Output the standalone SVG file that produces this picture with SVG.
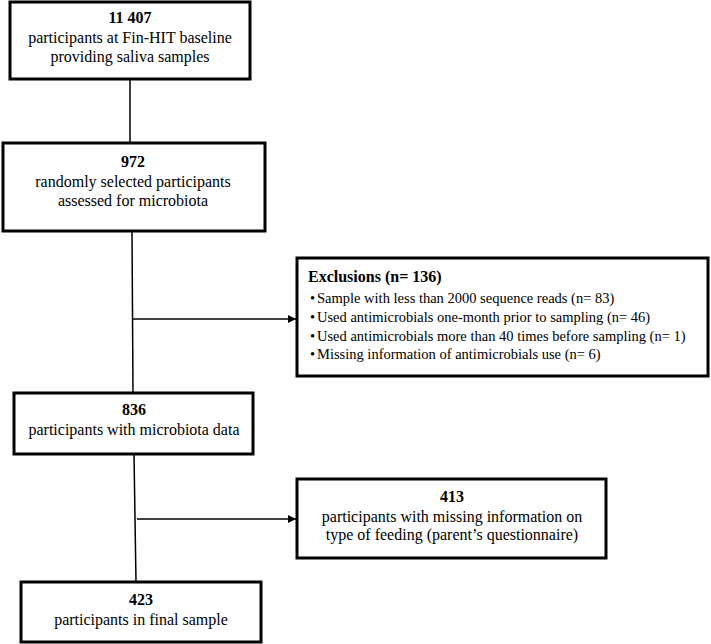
<svg xmlns="http://www.w3.org/2000/svg" width="711" height="644" viewBox="0 0 711 644">
<style>
.box{fill:#fff;stroke:#000;stroke-width:3}
.t{font-family:"Liberation Serif","Times New Roman",serif;font-size:16px;fill:#000;text-anchor:middle}
.b{font-weight:bold}
.s{font-family:"Liberation Serif","Times New Roman",serif;font-size:14.5px;fill:#000}
.ln{stroke:#000;stroke-width:1.5;fill:none}
</style>
<defs>
<marker id="ah" viewBox="0 0 8 8" refX="8" refY="4" markerWidth="8" markerHeight="8" markerUnits="userSpaceOnUse" orient="auto">
<path d="M0,0 L8,4 L0,8 z" fill="#000"/>
</marker>
</defs>
<rect width="711" height="644" fill="#fff"/>
<g id="connectors">
<line class="ln" x1="130" y1="79" x2="130" y2="143"/>
<line class="ln" x1="132" y1="231" x2="133" y2="393"/>
<line class="ln" x1="134" y1="454" x2="136" y2="582"/>
<line class="ln" x1="133" y1="319" x2="296" y2="319" marker-end="url(#ah)"/>
<line class="ln" x1="137" y1="519" x2="296" y2="519" marker-end="url(#ah)"/>
</g>
<g id="n1">
<rect class="box" x="10" y="2" width="240" height="77"/>
<text class="t b" x="130" y="23">11 407</text>
<text class="t" x="130" y="43">participants at Fin-HIT baseline</text>
<text class="t" x="130" y="62">providing saliva samples</text>
</g>
<g id="n2">
<rect class="box" x="3" y="143" width="262" height="88"/>
<text class="t b" x="133" y="167">972</text>
<text class="t" x="133" y="187">randomly selected participants</text>
<text class="t" x="133" y="206">assessed for microbiota</text>
</g>
<g id="n3">
<rect class="box" x="297" y="258" width="411" height="118"/>
<text class="t b" x="308" y="282" style="text-anchor:start">Exclusions (n= 136)</text>
<text class="s" x="310" y="303">•</text><text class="s" x="317" y="303">Sample with less than 2000 sequence reads (n= 83)</text>
<text class="s" x="310" y="322">•</text><text class="s" x="317" y="322">Used antimicrobials one-month prior to sampling (n= 46)</text>
<text class="s" x="310" y="341">•</text><text class="s" x="317" y="341">Used antimicrobials more than 40 times before sampling (n= 1)</text>
<text class="s" x="310" y="359">•</text><text class="s" x="317" y="359">Missing information of antimicrobials use (n= 6)</text>
</g>
<g id="n4">
<rect class="box" x="14" y="393" width="239" height="61"/>
<text class="t b" x="134" y="415">836</text>
<text class="t" x="134" y="435">participants with microbiota data</text>
</g>
<g id="n5">
<rect class="box" x="297" y="479" width="309" height="79"/>
<text class="t b" x="452" y="502">413</text>
<text class="t" x="452" y="522">participants with missing information on</text>
<text class="t" x="452" y="540">type of feeding (parent’s questionnaire)</text>
</g>
<g id="n6">
<rect class="box" x="21" y="582" width="240" height="60"/>
<text class="t b" x="141" y="605">423</text>
<text class="t" x="141" y="625">participants in final sample</text>
</g>
</svg>
